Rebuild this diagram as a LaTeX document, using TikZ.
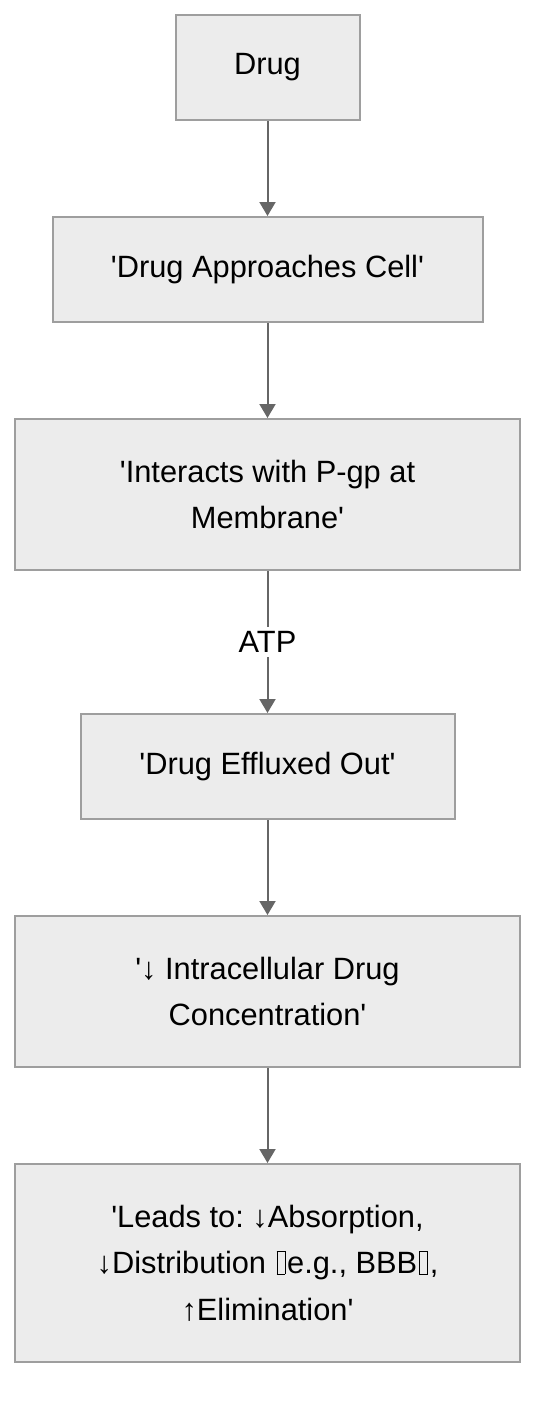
\documentclass[tikz,border=0pt]{standalone}
\usepackage{fontspec}
\setmainfont{Liberation Sans}
\usetikzlibrary{arrows.meta}

\newcommand{\q}{\textquotesingle}
\newcommand{\missingglyph}{\kern0.06em{\fboxsep=0pt\fboxrule=0.35pt\fbox{\rule{0pt}{0.72em}\hspace{0.24em}}}\kern0.06em}

\begin{document}
\frenchspacing
\begin{tikzpicture}[x=0.5pt, y=-0.5pt,
        step box/.style={draw=boxline, fill=boxfill, line width=1pt, inner sep=0pt,
            align=center, font=\fontsize{15.4}{23.2}\selectfont, minimum height=52.5pt},
        edge/.style={draw=edgeline, line width=1pt, -{Triangle[length=7pt, width=8pt]}},
        edge label/.style={fill=white, inner sep=2pt, font=\fontsize{15.4}{23.2}\selectfont}]

        \definecolor{boxfill}{HTML}{ECECEC}
        \definecolor{boxline}{HTML}{9E9E9E}
        \definecolor{edgeline}{HTML}{666666}

        \useasboundingbox (0,0) rectangle (552,1420);

        \node[step box, minimum width=92pt] (drug) at (267.5,67.5) {Drug};
        \node[step box, minimum width=215pt] (approach) at (267.5,269.5) {\q Drug Approaches Cell\q};
        \node[step box, minimum width=252.5pt, minimum height=75.5pt] (interact)
            at (267.5,494.5) {\q Interacts with P-gp at\\ Membrane\q};
        \node[step box, minimum width=187pt] (efflux) at (267.5,766.5) {\q Drug Effluxed Out\q};
        \node[step box, minimum width=252.5pt, minimum height=75.5pt] (conc)
            at (267.5,991.5) {\q↓ Intracellular Drug\\ Concentration\q};
        \node[step box, minimum width=252.5pt, minimum height=99pt] (leads)
            at (267.5,1263) {\q Leads to: ↓Absorption,\\ ↓Distribution \missingglyph e.g., BBB\missingglyph,\\ ↑Elimination\q};

        \draw[edge] (drug) -- (approach);
        \draw[edge] (approach) -- (interact);
        \draw[edge] (interact) -- node[edge label] (atp) {ATP} (efflux);
        \draw[edge] (efflux) -- (conc);
        \draw[edge] (conc) -- (leads);

    \end{tikzpicture}
\end{document}
